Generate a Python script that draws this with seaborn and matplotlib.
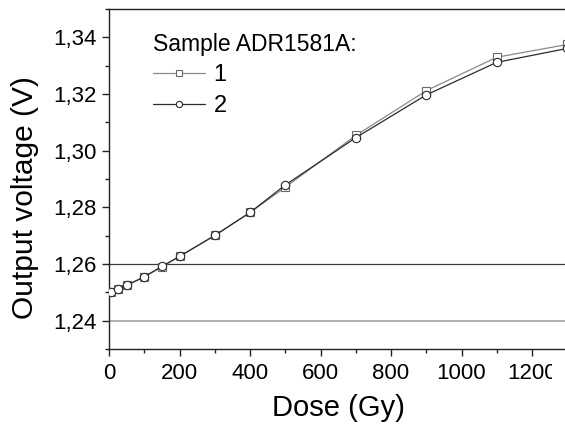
import numpy as np
import pandas as pd
import matplotlib
matplotlib.use("Agg")
import matplotlib.pyplot as plt
import matplotlib.ticker as mticker
from matplotlib.lines import Line2D
from matplotlib.patches import Rectangle
import seaborn as sns

# doses (Gy) and output voltages (V)
dose = [5, 25, 50, 100, 150, 200, 300, 400, 500, 700, 900, 1100, 1300]
sample_1 = [1.2502, 1.2513, 1.2525, 1.2555, 1.2590, 1.2627, 1.2701, 1.2782,
            1.2871, 1.3054, 1.3212, 1.3330, 1.3375]
sample_2 = [1.2502, 1.2513, 1.2525, 1.2555, 1.2592, 1.2627, 1.2701, 1.2782,
            1.2879, 1.3046, 1.3197, 1.3312, 1.3361]
samples = ["1", "2"]
ref_lines = [1.26, 1.24]

df = pd.DataFrame({
    "dose": dose * 2,
    "voltage": sample_1 + sample_2,
    "sample": [samples[0]] * len(dose) + [samples[1]] * len(dose),
})

line_cols = {"1": "#8a8a8a", "2": "#2a2a2a"}
edge_cols = {"1": "#6a6a6a", "2": "#2a2a2a"}
marks = {"1": "s", "2": "o"}

sns.set_style("ticks")
plt.rcParams["font.family"] = ["Liberation Sans", "DejaVu Sans"]
plt.rcParams["text.color"] = "black"
plt.rcParams["axes.labelcolor"] = "black"
plt.rcParams["xtick.color"] = "black"
plt.rcParams["ytick.color"] = "black"

fig = plt.figure(figsize=(5.65, 4.32), dpi=100)
ax = fig.add_axes([0.193, 0.192, 0.811, 0.787])

# reference lines
ax.axhline(ref_lines[0], color="#3a3a3a", lw=0.9, zorder=1)
ax.axhline(ref_lines[1], color="#a8a8a8", lw=1.3, zorder=1)

sns.lineplot(data=df, x="dose", y="voltage", hue="sample", style="sample",
             palette=line_cols, markers=marks, dashes=False,
             markersize=6, markerfacecolor="white", markeredgewidth=0.8,
             linewidth=0.9, ax=ax, zorder=3, legend=False)

for ln, s in zip(ax.lines[2:4], samples):
    ln.set_markeredgecolor(edge_cols[s])

ax.set_xlim(0, 1300)
ax.set_ylim(1.23, 1.35)
ax.set_xticks(range(0, 1201, 200))
ax.xaxis.set_minor_locator(mticker.MultipleLocator(100))
ax.yaxis.set_major_locator(mticker.MultipleLocator(0.02))
ax.yaxis.set_minor_locator(mticker.MultipleLocator(0.01))
ax.yaxis.set_major_formatter(
    mticker.FuncFormatter(lambda v, p: f"{v:.2f}".replace(".", ",")))

ax.tick_params(which="major", direction="out", length=5, width=1,
               labelsize=16, color="#222222", labelcolor="black", pad=4)
ax.tick_params(axis="x", which="major", pad=5)
ax.tick_params(which="minor", direction="out", length=3, width=1,
               color="#222222")

for s in ["left", "bottom", "top"]:
    ax.spines[s].set_color("#222222")
    ax.spines[s].set_linewidth(1.0)
ax.spines["right"].set_visible(False)

ax.set_xlabel("Dose (Gy)", fontsize=21, labelpad=7, color="black")
ax.set_ylabel("Output voltage (V)", fontsize=21.5, color="black")
ax.yaxis.set_label_coords(-0.152, 0.445)

# the last x label is cut off like in the reference
clip = Rectangle((0, 0), 552 / 565, 1, transform=fig.transFigure)
for lab in ax.get_xticklabels():
    lab.set_clip_on(True)
    lab.set_clip_path(clip)

handles = [Line2D([], [], color=line_cols[s], lw=0.9, marker=marks[s],
                  markersize=4.5, markerfacecolor="white",
                  markeredgecolor=edge_cols[s], markeredgewidth=0.8)
           for s in samples]
leg = ax.legend(handles, samples, title="Sample ADR1581A:", loc="upper left",
                bbox_to_anchor=(0.086, 0.944), frameon=False, fontsize=17,
                title_fontsize=16.5, handlelength=2.2, handletextpad=0.35,
                labelspacing=0.36, borderpad=0.2, borderaxespad=0)
leg._legend_box.align = "left"
leg.get_title().set_color("black")
for t in leg.get_texts():
    t.set_color("black")

fig.savefig("out.png", dpi=100)
